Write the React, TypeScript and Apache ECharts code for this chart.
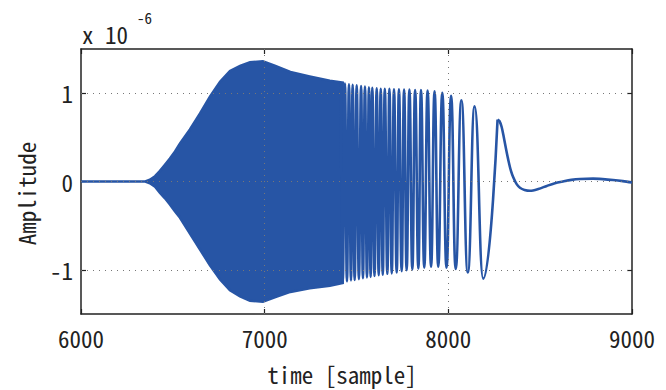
import React, { useEffect, useRef } from 'react';
import * as echarts from 'echarts';

// ---- data (amplitude in units of 1e-6) ----
const xTicks = [6000, 7000, 8000, 9000];
const yTicks = [-1, 0, 1];

// dense chirp region: outer envelope
const envX = [6000, 6350, 6375, 6403, 6430, 6457, 6484, 6512, 6539, 6593, 6648, 6702, 6757, 6811, 6866, 6920, 6990, 7055, 7140, 7245, 7355, 7425];
const envUpper = [0, 0, 0.02, 0.06, 0.12, 0.19, 0.26, 0.34, 0.43, 0.59, 0.77, 0.96, 1.13, 1.25, 1.31, 1.35, 1.36, 1.31, 1.24, 1.19, 1.14, 1.12];
const envLower = [0, 0, -0.02, -0.06, -0.13, -0.19, -0.26, -0.34, -0.41, -0.59, -0.77, -0.95, -1.11, -1.23, -1.3, -1.35, -1.36, -1.31, -1.25, -1.21, -1.18, -1.15];

// resolvable oscillations: peaks and troughs
const waveX = [7414, 7425, 7437, 7448, 7459, 7470, 7479, 7490, 7501, 7513, 7525, 7535, 7546, 7557, 7568, 7577, 7586, 7598, 7610, 7621,
  7632, 7643, 7654, 7668, 7679, 7692, 7704, 7719, 7731, 7746, 7759, 7773, 7788, 7804, 7819, 7837, 7851, 7869, 7887, 7906, 7925, 7945, 7967, 7990, 8015, 8040, 8071, 8106, 8143, 8190, 8268];
const waveY = [1.12, -1.14, 1.11, -1.13, 1.1, -1.12, 1.095, -1.115, 1.09, -1.105, 1.08, -1.095, 1.075, -1.085, 1.065, -1.08, 1.06, -1.07, 1.055, -1.06,
  1.05, -1.055, 1.05, -1.045, 1.05, -1.04, 1.045, -1.03, 1.045, -1.015, 1.04, -1.005, 1.04, -0.995, 1.035, -0.985, 1.035, -0.975, 1.03, -0.965, 1.02, -0.965, 1.005, -0.975, 0.97, -0.99, 0.92, -1.03, 0.85, -1.1, 0.7];

// decaying tail after the last peak
const tailX = [8268, 8278, 8290, 8302, 8315, 8328, 8341, 8354, 8372, 8390, 8415, 8445, 8490, 8536, 8580, 8624, 8670, 8717, 8788, 8840, 8897, 8950, 9000];
const tailY = [0.7, 0.685, 0.62, 0.5, 0.36, 0.23, 0.12, 0.045, -0.03, -0.07, -0.095, -0.105, -0.085, -0.05, -0.02, 0, 0.018, 0.028, 0.032, 0.027, 0.017, 0.004, -0.012];

const BLUE = '#2755a5';
const FONT = "'Noto Sans Mono CJK JP', 'DejaVu Sans Mono', monospace";

export default function App() {
  const ref = useRef<HTMLDivElement>(null);
  useEffect(() => {
    if (!ref.current) return;
    const chart = echarts.init(ref.current, null, { renderer: 'svg' });
    const envPts: number[][] = envX.map((x, i) => [x, envUpper[i]]);
    for (let i = envX.length - 1; i >= 0; i--) envPts.push([envX[i], envLower[i]]);
    const wave = waveX.map((x, i) => [x, waveY[i]]);
    const tail = tailX.map((x, i) => [x, tailY[i]]);
    const frameLine = { show: true, onZero: false, lineStyle: { color: '#222', width: 1.5 } };
    const tickIn = { show: true, inside: true, length: 5, lineStyle: { color: '#222', width: 1.2 } };
    chart.setOption({
      animation: false,
      backgroundColor: '#fff',
      grid: { left: 81, right: 34, top: 49, bottom: 72, containLabel: false },
      xAxis: [
        {
          type: 'value', min: 6000, max: 9000, interval: 1000, position: 'bottom',
          axisLine: frameLine, axisTick: tickIn, splitLine: { show: false },
          axisLabel: {
            show: true, color: '#222', fontSize: 23, fontFamily: FONT, margin: 12,
            customValues: xTicks, formatter: (v: number) => String(v),
          },
          name: 'time [sample]', nameLocation: 'middle', nameGap: 48,
          nameTextStyle: { color: '#222', fontSize: 23, fontFamily: FONT, padding: [0, 29, 0, 0] },
        },
        {
          type: 'value', min: 6000, max: 9000, interval: 1000, position: 'top',
          axisLine: frameLine, axisTick: tickIn, axisLabel: { show: false }, splitLine: { show: false },
        },
      ],
      yAxis: [
        {
          type: 'value', min: -1.5, max: 1.5, position: 'left',
          axisLine: frameLine,
          axisTick: { ...tickIn, customValues: yTicks },
          axisLabel: {
            show: true, color: '#222', fontSize: 23, fontFamily: FONT, margin: 8,
            customValues: yTicks, formatter: (v: number) => String(v),
          },
          splitLine: { show: false },
          name: 'Amplitude', nameLocation: 'middle', nameGap: 44, nameRotate: 90,
          nameTextStyle: { color: '#222', fontSize: 23, fontFamily: FONT, padding: [0, 0, 0, -24] },
        },
        {
          type: 'value', min: -1.5, max: 1.5, position: 'right',
          axisLine: frameLine,
          axisTick: { ...tickIn, customValues: yTicks },
          axisLabel: { show: false }, splitLine: { show: false },
        },
      ],
      graphic: [
        { type: 'text', left: 82, top: 22, style: { text: 'x 10', fontSize: 23, fontFamily: FONT, fill: '#222' } },
        { type: 'text', left: 137, top: 10, style: { text: '-6', fontSize: 15, fontFamily: FONT, fill: '#222' } },
      ],
      series: [
        {
          type: 'line', data: [], z: 1, xAxisIndex: 0, yAxisIndex: 0,
          markLine: {
            silent: true, symbol: 'none', label: { show: false },
            lineStyle: { type: [1, 5], color: '#777', width: 1 },
            data: [
              ...yTicks.map((v) => ({ yAxis: v })),
              { xAxis: 7000 }, { xAxis: 8000 },
            ],
          },
        },
        {
          type: 'custom', z: 3, xAxisIndex: 0, yAxisIndex: 0,
          data: [[6000, 0]],
          renderItem: (_p: any, api: any) => ({
            type: 'polygon',
            shape: { points: envPts.map((p) => api.coord(p)) },
            style: { fill: BLUE, stroke: BLUE, lineWidth: 2.5 },
          }),
        },
        {
          type: 'line', z: 4, xAxisIndex: 0, yAxisIndex: 0,
          data: wave, showSymbol: false, symbol: 'none',
          smooth: 0.5, smoothMonotone: 'x',
          lineStyle: { color: BLUE, width: 2.6 },
        },
        {
          type: 'line', z: 4, xAxisIndex: 0, yAxisIndex: 0,
          data: tail, showSymbol: false, symbol: 'none',
          smooth: 0.3,
          lineStyle: { color: BLUE, width: 2.6 },
        },
      ],
    });
    return () => chart.dispose();
  }, []);
  return <div ref={ref} style={{ width: 666, height: 390, position: 'absolute', left: 0, top: 0 }} />;
}
